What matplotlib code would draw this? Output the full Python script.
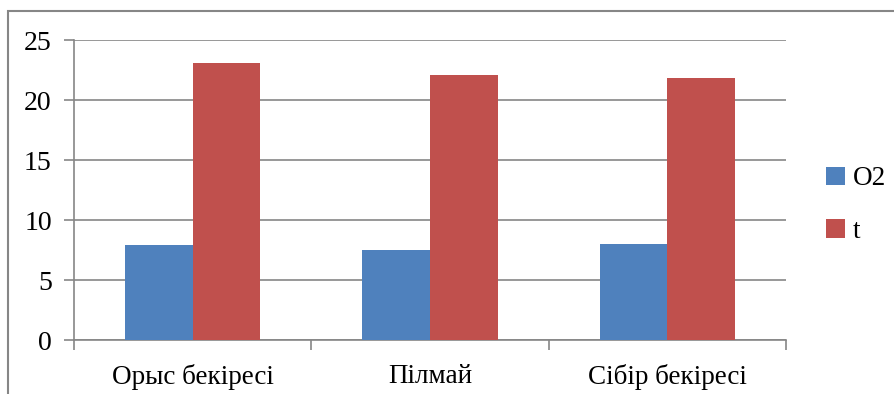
import numpy as np
import matplotlib.pyplot as plt
from matplotlib.patches import Rectangle

plt.rcParams['font.family'] = ['Liberation Serif', 'DejaVu Serif']

categories = ['Орыс бекіресі', 'Пілмай', 'Сібір бекіресі']
o2_values = [7.9, 7.5, 8.0]
t_values = [23.1, 22.1, 21.8]

blue = '#4F81BD'
red = '#C0504D'
grid_c = '#868686'

fig = plt.figure(figsize=(8.94, 3.94), dpi=100)
ax = fig.add_axes([74 / 894, 1 - 340 / 394, 712 / 894, 300 / 394])

x = np.arange(len(categories))
w = 1 / 3.5
ax.bar(x - w / 2, o2_values, w, color=blue, label='O2', zorder=3)
ax.bar(x + w / 2, t_values, w, color=red, label='t', zorder=3)

ax.set_xlim(-0.5, len(categories) - 0.5)
ax.set_ylim(0, 25)
ax.set_yticks(range(0, 26, 5))
ax.yaxis.grid(True, color=grid_c, linewidth=1.2, zorder=0)

# category labels without ticks, boundary ticks as minor ticks
ax.set_xticks(x)
ax.set_xticklabels(categories, fontsize=19.5)
ax.set_xticks(np.arange(-0.5, len(categories), 1), minor=True)
ax.tick_params(axis='x', which='major', length=0, pad=17)
ax.tick_params(axis='x', which='minor', length=7, width=1.2, color=grid_c)
ax.tick_params(axis='y', length=7, width=1.2, color=grid_c, labelsize=20, pad=9)

for s in ['top', 'right']:
    ax.spines[s].set_visible(False)
for s in ['left', 'bottom']:
    ax.spines[s].set_color(grid_c)
    ax.spines[s].set_linewidth(1.2)

ax.legend(loc='center left', bbox_to_anchor=(1.022, 0.45), frameon=False,
          fontsize=19.5, handlelength=0.7, handleheight=0.7, handletextpad=0.3,
          labelspacing=1.0)

# outer chart frame
fig.patches.append(Rectangle((8 / 894, -0.1), 2, 1 - 11 / 394 + 0.1,
                             transform=fig.transFigure, fill=False,
                             edgecolor=grid_c, linewidth=1.5))

fig.savefig('out.png', dpi=100)
